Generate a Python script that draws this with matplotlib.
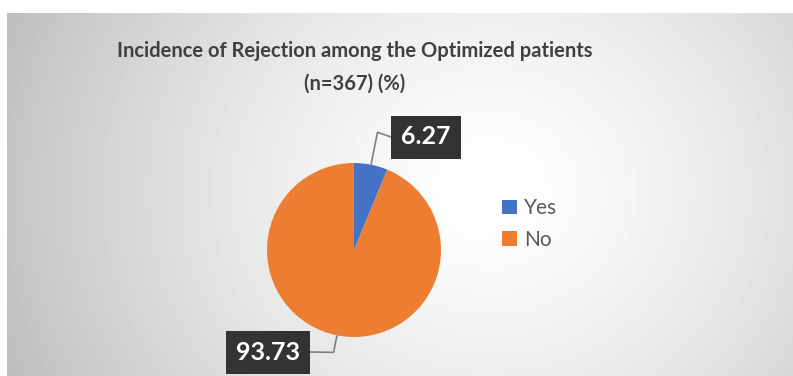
import numpy as np
import matplotlib
matplotlib.use("Agg")
import matplotlib.pyplot as plt
from matplotlib.patches import Patch

# Data
categories = ["Yes", "No"]
values = [6.27, 93.73]
colors = ["#4472C4", "#ED7D31"]
title = "Incidence of Rejection among the Optimized patients\n(n=367) (%)"

W, H = 793, 376
fig = plt.figure(figsize=(W / 100, H / 100), dpi=100)
fig.patch.set_facecolor("white")

# Gray radial-gradient panel
bg = fig.add_axes([7 / W, 0, 1 - 7 / W, 1 - 13 / H])
bg.set_axis_off()
yy, xx = np.mgrid[13:H, 7:W]
r = np.hypot((xx - 490) / 1.0, (yy - 190) / 0.9) / 470
shade = 1.0 - 0.22 * np.clip(r, 0, 1.2) ** 1.4
bg.imshow(shade, cmap="gray", vmin=0, vmax=1, aspect="auto",
          extent=[0, 1, 0, 1], interpolation="bilinear")

# Main axes in pixel units (y up)
ax = fig.add_axes([0, 0, 1, 1])
ax.patch.set_alpha(0)

cx, cy, rad = 354, 376 - 250, 87
wedges, _ = ax.pie(values, colors=colors, startangle=90, counterclock=False,
                   center=(cx, cy), radius=rad, frame=True,
                   wedgeprops=dict(linewidth=0))
ax.set_xlim(0, W)
ax.set_ylim(0, H)
ax.set_aspect("auto")
ax.set_axis_off()

font = "Lato"

# Data labels with leader lines
label_layout = [
    # (elbow radius factor, box anchor x, box anchor y, ha)
    (1.38, 391, 376 - 137, "left"),
    (1.20, 310, 376 - 352, "right"),
]
for w, v, (rf, bx, by, ha) in zip(wedges, values, label_layout):
    ang = np.deg2rad((w.theta1 + w.theta2) / 2)
    ex, ey = cx + rad * np.cos(ang), cy + rad * np.sin(ang)
    kx, ky = cx + rad * rf * np.cos(ang), cy + rad * rf * np.sin(ang)
    ax.plot([ex, kx, bx], [ey, ky, by], color="#7f7f7f", lw=1.2,
            solid_capstyle="butt", zorder=3)
    ax.text(bx + (10 if ha == "left" else -10), by, f"{v:.2f}", ha=ha, va="center",
            color="white", fontsize=18, fontweight="bold", family=font, zorder=5,
            bbox=dict(boxstyle="square,pad=0.4", facecolor="#333333",
                      edgecolor="none"))

# Title
line1, line2 = title.split("\n")
fig.text(355 / W, 1 - 51 / H, line1, ha="center", va="center",
         fontsize=14.5, fontweight="bold", color="#404040", family=font)
fig.text(355 / W, 1 - 84 / H, line2, ha="center", va="center",
         fontsize=14.5, fontweight="bold", color="#404040", family=font)

# Legend
handles = [Patch(facecolor=c, edgecolor="none") for c in colors]
leg = fig.legend(handles, categories, loc="upper left",
                 bbox_to_anchor=(494 / W, 1 - 190 / H), frameon=False,
                 handlelength=0.7, handleheight=0.7, handletextpad=0.35,
                 labelspacing=0.55, borderaxespad=0, borderpad=0.4,
                 prop=dict(family=font, size=15))
for t in leg.get_texts():
    t.set_color("#595959")

fig.savefig("out.png", dpi=100, facecolor="white")
